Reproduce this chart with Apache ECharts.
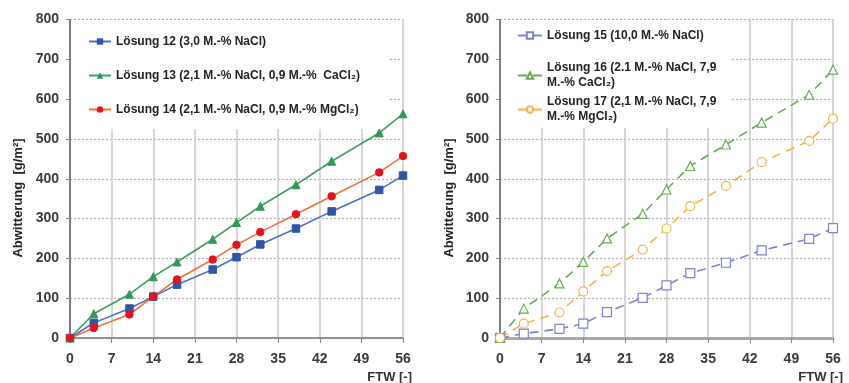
<!DOCTYPE html>
<html><head><meta charset="utf-8">
<script src="https://cdn.jsdelivr.net/npm/echarts@6/dist/echarts.min.js"></script>
<style>html,body{margin:0;padding:0;background:#fff}#c{width:849px;height:383px}</style>
</head><body><div id="c"></div>
<script>
const ftw = [0, 4, 10, 14, 18, 24, 28, 32, 38, 44, 52, 56];
const xTicks = [0, 7, 14, 21, 28, 35, 42, 49, 56];
const yTicks = [0, 100, 200, 300, 400, 500, 600, 700, 800];
const names = [
  'Lösung 12 (3,0 M.-% NaCl)',
  'Lösung 13 (2,1 M.-% NaCl, 0,9 M.-%  CaCl₂)',
  'Lösung 14 (2,1 M.-% NaCl, 0,9 M.-% MgCl₂)',
  'Lösung 15 (10,0 M.-% NaCl)',
  'Lösung 16 (2.1 M.-% NaCl, 7,9\nM.-% CaCl₂)',
  'Lösung 17 (2,1 M.-% NaCl, 7,9\nM.-% MgCl₂)'
];
const loesung12 = [0, 38, 74, 104, 134, 172, 203, 235, 275, 318, 372, 408];
const loesung13 = [0, 61, 110, 154, 191, 248, 290, 331, 385, 444, 515, 563];
const loesung14 = [0, 25, 59, 104, 147, 197, 234, 266, 311, 356, 416, 457];
const loesung15 = [0, 11, 23, 36, 65, 101, 132, 163, 189, 220, 249, 276];
const loesung16 = [0, 74, 137, 191, 250, 312, 373, 432, 486, 541, 611, 674];
const loesung17 = [0, 36, 64, 117, 168, 222, 275, 331, 382, 442, 495, 551];
const yName = 'Abwitterung  [g/m²]';
const xName = 'FTW [-]';

const FONT = 'Liberation Sans, Arial, sans-serif';
const pairs = v => ftw.map((x, i) => [x, v[i]]);

function xAxis(idx) {
  return {
    type: 'value', gridIndex: idx, min: xTicks[0], max: xTicks[xTicks.length - 1], interval: 7,
    axisLine: { show: true, lineStyle: { color: idx ? '#a8a8a8' : '#909090', width: idx ? 3 : 2 } },
    axisTick: { show: true, length: 5, lineStyle: { color: '#888' } },
    axisLabel: { margin: 14, fontSize: 14, fontWeight: 'bold', color: '#3a3a3a', fontFamily: FONT },
    splitLine: { show: true, lineStyle: { color: '#c8c8c8', width: 1.5, type: 'solid' } }
  };
}
function yAxis(idx) {
  return {
    type: 'value', gridIndex: idx, min: yTicks[0], max: yTicks[yTicks.length - 1], interval: 100,
    axisLine: { show: true, lineStyle: { color: '#606060', width: 1.5 } },
    axisTick: { show: true, length: 4, lineStyle: { color: '#888' } },
    axisLabel: { margin: 11, fontSize: 14, fontWeight: 'bold', color: '#3a3a3a', fontFamily: FONT },
    splitLine: { show: true, lineStyle: { color: '#b0b0b0', width: 1.2, type: [2, 2] } }
  };
}
function solid(name, data, idx, sym, lineC, markC) {
  return {
    type: 'line', name, xAxisIndex: idx, yAxisIndex: idx, data: pairs(data),
    symbol: sym, symbolSize: sym === 'triangle' ? 8 : 7.5, showSymbol: true,
    lineStyle: { color: lineC, width: 1.6 },
    itemStyle: { color: markC, borderColor: markC },
    z: 8, animation: false
  };
}
function dashed(name, data, idx, sym, c) {
  return {
    type: 'line', name, xAxisIndex: idx, yAxisIndex: idx, data: pairs(data),
    symbol: sym, symbolSize: 9, showSymbol: true,
    lineStyle: { color: c, width: 1.6, type: [9, 6] },
    itemStyle: { color: '#fff', borderColor: c, borderWidth: 1.2 },
    z: 8, animation: false
  };
}
const legendText = { fontSize: 12, fontWeight: 'bold', color: '#222', fontFamily: FONT, lineHeight: 15 };
const rl = (name, top, extra) => Object.assign({
  data: [name], orient: 'vertical', left: 517, top, padding: 0, itemWidth: 24, itemHeight: 8,
  textStyle: legendText, z: 6
}, extra || {});

const chart = echarts.init(document.getElementById('c'), null, { renderer: 'canvas' });
chart.setOption({
  backgroundColor: '#fff',
  animation: false,
  grid: [
    { left: 70, right: 446, top: 19.5, bottom: 45 },
    { left: 500, right: 16, top: 19.5, bottom: 45 }
  ],
  xAxis: [xAxis(0), xAxis(1)],
  yAxis: [yAxis(0), yAxis(1)],
  legend: [
    { data: names.slice(0, 3), orient: 'vertical', left: 71, top: 20, backgroundColor: '#fff',
      padding: [14, 28, 12, 17], itemGap: 19, itemWidth: 22, itemHeight: 8,
      textStyle: legendText, z: 5 },
    rl(names[3], 20, { left: 501, backgroundColor: '#fff', padding: [8, 27, 85, 16], z: 5 }),
    rl(names[4], 60.5),
    rl(names[5], 94.5)
  ],
  series: [
    solid(names[0], loesung12, 0, 'rect', '#4a6fc4', '#2f55a8'),
    solid(names[1], loesung13, 0, 'triangle', '#3f9f62', '#2e9a55'),
    solid(names[2], loesung14, 0, 'circle', '#f36c3a', '#e5131b'),
    dashed(names[3], loesung15, 1, 'rect', '#7e83c9'),
    dashed(names[4], loesung16, 1, 'triangle', '#6aa955'),
    dashed(names[5], loesung17, 1, 'circle', '#f8b04c')
  ],
  graphic: [
    { type: 'text', x: 18, y: 198, rotation: Math.PI / 2, z: 10,
      style: { text: yName, fill: '#222', font: 'bold 13px ' + FONT, align: 'center', verticalAlign: 'middle' } },
    { type: 'text', x: 449, y: 198, rotation: Math.PI / 2, z: 10,
      style: { text: yName, fill: '#222', font: 'bold 13px ' + FONT, align: 'center', verticalAlign: 'middle' } },
    { type: 'text', x: 412, y: 377, z: 10,
      style: { text: xName, fill: '#333', font: 'bold 13px ' + FONT, align: 'right', verticalAlign: 'middle' } },
    { type: 'text', x: 843, y: 377, z: 10,
      style: { text: xName, fill: '#333', font: 'bold 13px ' + FONT, align: 'right', verticalAlign: 'middle' } }
  ]
});
</script></body></html>
